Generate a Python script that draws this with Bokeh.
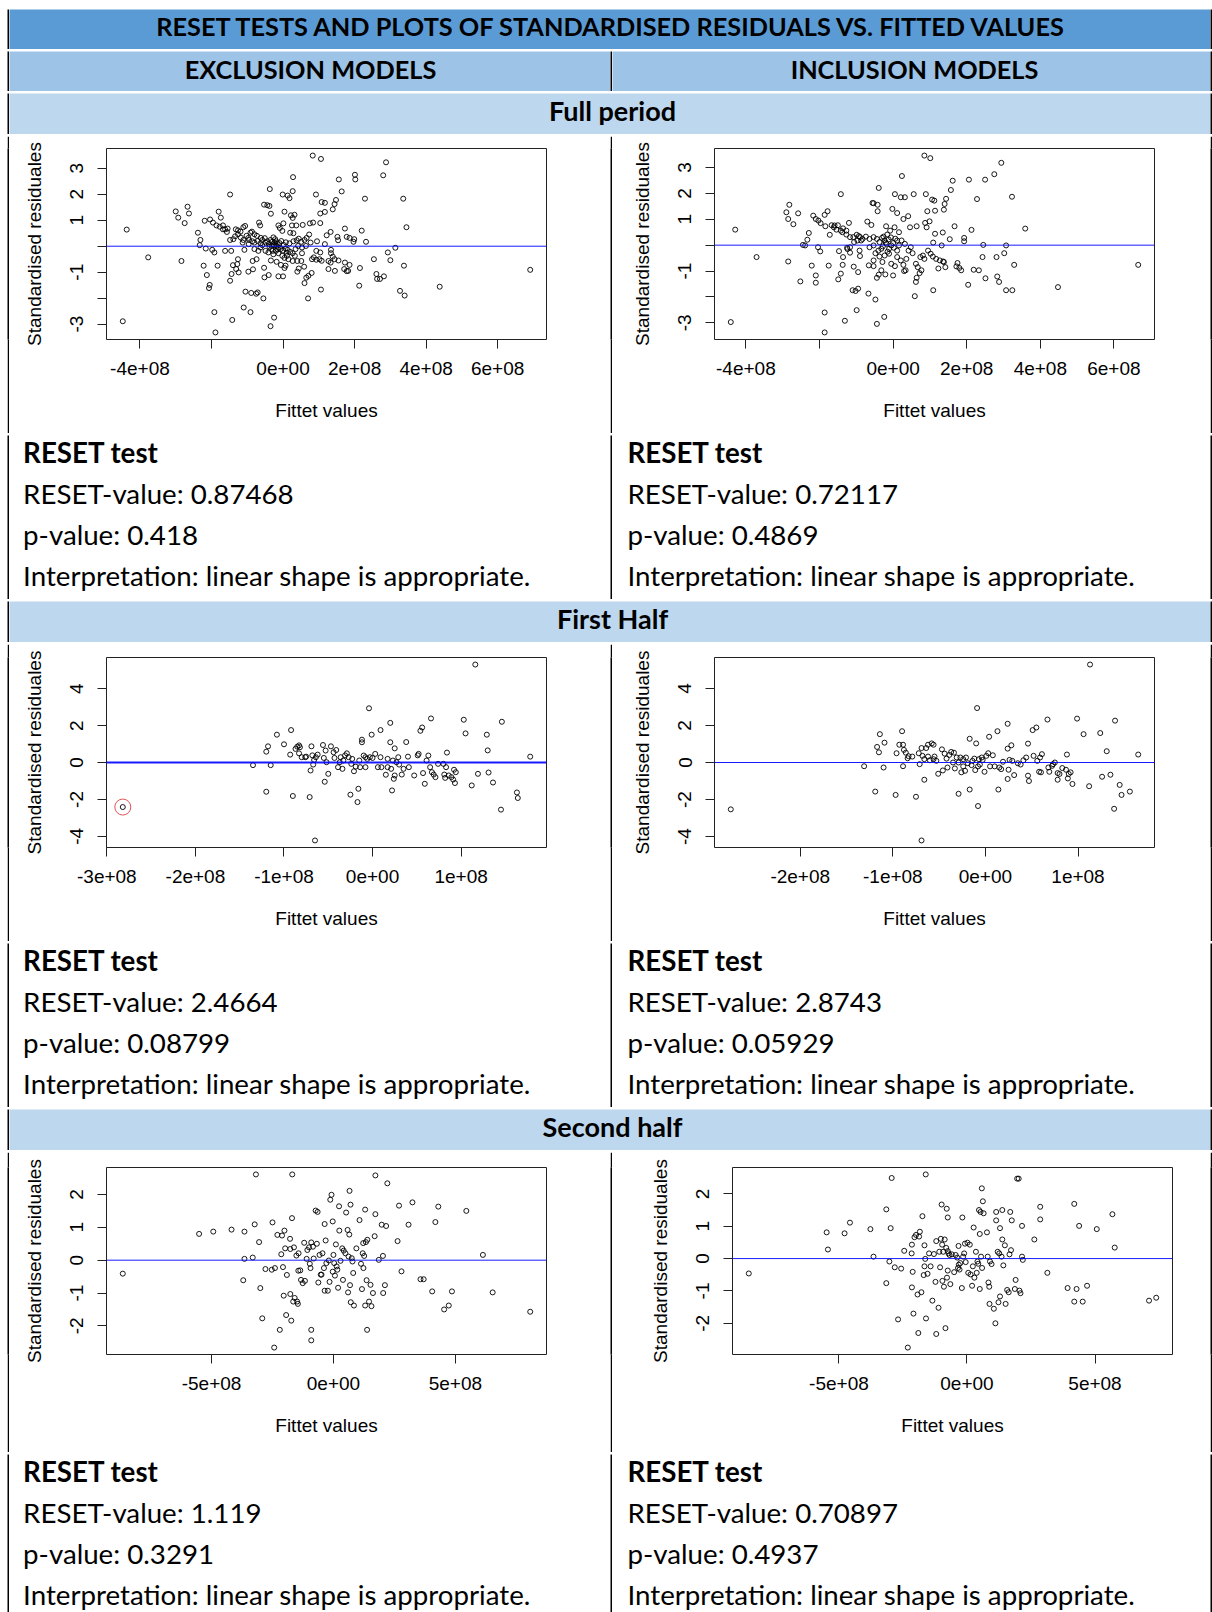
import math
from bokeh.plotting import figure
from bokeh.layouts import row, column
from bokeh.models import Range1d, FixedTicker, Span
from bokeh.core.properties import value
from bokeh.embed import file_html
from bokeh.resources import INLINE

# ------------------------------------------------------------------ texts
TITLE = "RESET TESTS AND PLOTS OF STANDARDISED RESIDUALS VS. FITTED VALUES"
COLUMN_HEADS = ["EXCLUSION MODELS", "INCLUSION MODELS"]
PERIODS = ["Full period", "First Half", "Second half"]
RESET_EXCL = ["0.87468", "2.4664", "1.119"]
P_EXCL = ["0.418", "0.08799", "0.3291"]
RESET_INCL = ["0.72117", "2.8743", "0.70897"]
P_INCL = ["0.4869", "0.05929", "0.4937"]
INTERPRETATION = "linear shape is appropriate."
X_TITLE = "Fittet values"
Y_TITLE = "Standardised residuales"

# ------------------------------------------------------------------ ticks (fitted values in units of 1e8)
FULL_XTICKS = [-4, -2, 0, 2, 4, 6]
FULL_XLABELS = ["-4e+08", "", "0e+00", "2e+08", "4e+08", "6e+08"]
FULL_YTICKS = [-3, -2, -1, 0, 1, 2, 3]
FULL_YLABELS = ["-3", "", "-1", "", "1", "2", "3"]
FIRST_EXCL_XTICKS = [-3, -2, -1, 0, 1]
FIRST_EXCL_XLABELS = ["-3e+08", "-2e+08", "-1e+08", "0e+00", "1e+08"]
FIRST_INCL_XTICKS = [-2, -1, 0, 1]
FIRST_INCL_XLABELS = ["-2e+08", "-1e+08", "0e+00", "1e+08"]
FIRST_YTICKS = [-4, -2, 0, 2, 4]
FIRST_YLABELS = ["-4", "-2", "0", "2", "4"]
SECOND_XTICKS = [-5, 0, 5]
SECOND_XLABELS = ["-5e+08", "0e+00", "5e+08"]
SECOND_YTICKS = [-2, -1, 0, 1, 2]
SECOND_YLABELS = ["-2", "-1", "0", "1", "2"]

# ------------------------------------------------------------------ points: (fitted value / 1e8, standardised residual)
FULL_EXCL = [
    (-4.48, -2.89), (-4.37, 0.64), (-3.77, -0.43), (-3.0, 1.34), (-2.93, 1.10), (-2.75, 0.89), (-2.67, 1.52),
    (-2.63, 1.26), (-2.84, -0.57), (-2.38, 0.52), (-2.31, 0.24), (-2.33, 0.04), (-2.16, -0.09), (-2.22, -0.75),
    (-2.13, -1.11), (-2.05, -1.49), (-2.07, -1.61), (-1.92, -2.54), (-1.89, -3.32), (-1.98, -0.14), (-1.92, -0.24),
    (-1.83, -0.75), (-2.19, 0.98), (-2.04, 1.03), (-1.96, 0.91), (-1.80, 1.33), (-1.74, 1.10), (-1.86, 0.80),
    (-1.77, 0.75), (-1.68, 0.80), (-1.62, 0.65), (-1.55, 0.68), (-1.48, 1.99), (-1.62, -0.18), (-1.45, -0.18),
    (-1.48, 0.24), (-1.39, 0.27), (-1.48, -1.33), (-1.44, -1.07), (-1.40, -0.73), (-1.42, -2.84), (-1.34, 0.38),
    (-1.32, 0.65), (-1.26, 0.61), (-1.19, 0.56), (-1.11, 0.73), (-1.06, 0.78), (-1.31, -0.88), (-1.26, -0.50),
    (-1.28, -0.69), (-1.24, -1.01), (-1.13, 0.14), (-1.08, -0.14), (-1.05, -1.75), (-1.10, -2.36), (-0.91, -2.54),
    (-0.89, -1.80), (-0.71, -1.78), (-0.75, -1.83), (-0.55, -2.01), (-0.97, -0.98), (-0.84, -0.89), (-0.85, -0.57),
    (-0.74, -0.50), (-0.97, 0.32), (-0.91, 0.52), (-0.87, 0.56), (-0.80, 0.46), (-0.73, 0.40), (-0.67, 0.91),
    (-0.64, 0.80), (-0.62, 0.32), (-0.58, 0.24), (-0.51, 0.31), (-0.53, 1.60), (-0.44, 1.58), (-0.38, 1.55),
    (-0.34, 1.25), (-0.37, 2.20), (-0.53, -0.83), (-0.52, -1.20), (-0.40, -1.11), (-0.35, -3.08), (-0.25, -2.75),
    (-0.29, -0.18), (-0.27, -0.31), (-0.34, -0.55), (-0.18, -0.60), (-0.13, -1.16), (0.0, -1.16), (-0.06, -0.72),
    (0.04, -0.84), (0.07, -0.75), (-0.01, 1.99), (0.13, 1.95), (0.18, 1.85), (0.27, 2.12), (0.28, 2.66),
    (0.04, 1.33), (0.22, 1.19), (0.32, 1.21), (0.27, 1.09), (0.01, 0.88), (0.25, 0.80), (0.37, 0.80),
    (-0.13, 0.80), (-0.09, 0.70), (-0.02, 0.59), (0.20, 0.52), (0.29, 0.50), (0.55, 0.82), (0.75, 0.88),
    (0.84, 0.91), (1.04, 0.89), (0.92, 1.99), (0.83, 3.49), (1.06, 3.36), (1.08, 1.70), (1.17, 1.67),
    (1.04, 1.26), (1.17, 1.32), (1.39, 1.42), (1.44, 1.62), (1.48, 1.78), (1.56, 2.57), (1.64, 2.11),
    (2.01, 2.75), (2.02, 2.57), (2.29, 1.83), (2.80, 2.73), (2.88, 3.23), (3.36, 1.83), (3.45, 0.73),
    (0.73, 0.45), (0.95, 0.19), (1.22, 0.42), (1.33, 0.55), (1.52, 0.36), (1.54, 0.23), (1.73, 0.68),
    (1.78, 0.36), (1.86, 0.32), (1.99, 0.27), (1.97, 0.17), (2.20, 0.60), (2.32, 0.17), (1.17, 0.08),
    (1.34, -0.14), (1.34, -0.27), (1.39, -0.40), (1.44, -0.50), (1.55, -0.55), (1.27, -0.57), (1.33, -0.63),
    (1.27, -0.88), (1.45, -0.95), (1.73, -0.63), (1.86, -0.72), (1.71, -0.88), (1.78, -0.96), (1.82, -0.95),
    (2.15, -0.84), (2.13, -1.52), (1.06, -1.67), (0.70, -2.01), (0.60, -1.42), (0.65, -1.21), (0.71, -1.14),
    (0.80, -1.03), (0.40, -0.98), (0.44, -0.86), (0.59, -0.79), (0.51, -0.57), (0.40, -0.57), (0.27, -0.57),
    (0.11, -0.37), (0.33, -0.37), (0.53, -0.27), (0.81, -0.50), (0.86, -0.43), (0.93, -0.52), (1.02, -0.50),
    (1.08, -0.56), (0.93, -0.18), (1.04, -0.24), (0.77, 0.14), (0.64, 0.01), (0.51, 0.17), (0.38, 0.23),
    (2.54, -0.50), (2.61, -1.07), (2.63, -1.26), (2.71, -1.26), (2.82, -1.16), (2.93, -0.24), (3.0, -0.54),
    (3.14, -0.06), (3.27, -1.72), (3.40, -1.90), (3.38, -0.75), (4.38, -1.56), (6.91, -0.91),
    (-1.02, 0.40), (-0.95, 0.24), (-0.86, 0.19), (-0.80, 0.14), (-0.71, 0.20), (-0.63, 0.11), (-0.58, 0.04),
    (-0.49, 0.14), (-0.44, 0.19), (-0.40, 0.09), (-0.35, 0.24), (-0.30, 0.17), (-0.24, 0.14), (-0.20, 0.19),
    (-0.15, 0.09), (-0.22, 0.27), (-0.27, 0.34), (-0.13, -0.05), (-0.07, -0.11), (0.0, -0.17), (0.07, -0.09),
    (0.13, -0.14), (0.20, -0.22), (0.27, -0.27), (0.35, -0.11), (0.42, 0.01), (0.53, -0.05), (-0.49, -0.18),
    (-0.41, -0.24), (-0.33, -0.11), (-0.20, -0.18), (-0.13, -0.27), (-0.02, -0.37), (0.04, -0.45), (0.15, -0.50),
    (0.18, 0.11), (0.29, 0.19), (0.44, 0.29), (0.60, 0.24), (0.66, 0.32), (-0.80, -0.11), (-0.69, -0.18),
    (-0.63, -0.05), (-0.96, 0.08), (-1.11, 0.24), (-1.18, 0.33), (-1.26, 0.46), (-1.57, 0.55), (-1.68, 0.65),
    (-0.25, 0.05), (-0.18, 0.02), (-0.10, 0.12), (-0.05, 0.20), (0.02, 0.05), (0.08, 0.15), (-0.32, 0.02),
    (-0.38, -0.02), (-0.15, -0.12), (0.10, -0.25),
]

FULL_INCL = [
    (-4.41, -2.97), (-4.29, 0.60), (-3.71, -0.46), (-2.90, 1.27), (-2.82, 1.56), (-2.85, 1.01), (-2.71, 0.81),
    (-2.58, 1.23), (-2.85, -0.63), (-2.45, 0.01), (-2.39, -0.01), (-2.33, 0.21), (-2.29, 0.47), (-2.21, -0.79),
    (-2.10, -1.17), (-2.10, -1.45), (-2.52, -1.40), (-2.17, 1.14), (-2.10, 1.01), (-2.03, 0.95), (-1.97, 0.85),
    (-1.86, 1.17), (-1.78, 1.31), (-1.84, 0.73), (-2.04, -0.08), (-1.98, -0.24), (-1.86, -2.60), (-1.86, -3.37),
    (-1.75, -0.79), (-1.67, 0.77), (-1.59, 0.76), (-1.72, 0.40), (-1.50, 0.77), (-1.42, 1.97), (-1.47, -0.23),
    (-1.42, -1.10), (-1.37, -0.76), (-1.36, -0.46), (-1.49, -1.32), (-1.31, -2.92), (-1.42, 0.56), (-1.36, 0.65),
    (-1.27, 0.56), (-1.20, 0.86), (-1.25, -0.10), (-1.17, -0.08), (-1.10, -1.74), (-1.02, -1.77), (-0.95, -1.68),
    (-0.99, -2.51), (-1.07, -0.83), (-0.95, -1.04), (-0.90, -0.42), (-1.08, 0.31), (-0.99, 0.40), (-0.93, 0.35),
    (-0.87, 0.18), (-0.70, 0.91), (-0.59, 0.78), (-0.67, -1.87), (-0.53, -0.81), (-0.48, -2.10), (-0.44, -3.04),
    (-0.56, 1.63), (-0.53, 1.62), (-0.42, 1.31), (-0.39, 2.21), (-0.42, 1.56), (-0.44, -1.26), (-0.39, -1.14),
    (-0.32, -0.97), (-0.21, -1.13), (-0.24, -2.77), (-0.29, -0.65), (-0.19, 0.73), (-0.02, 1.40), (0.05, 1.97),
    (0.11, 1.24), (0.24, 2.67), (0.21, 1.85), (0.32, 1.85), (0.28, 1.01), (0.41, 1.12), (-0.08, 0.56),
    (0.04, 0.69), (0.16, 0.50), (0.05, -0.81), (-0.05, -0.72), (0.0, -1.17), (0.30, -1.0), (0.28, -0.76),
    (0.36, -0.53), (0.56, 1.97), (0.46, 0.69), (0.64, 0.73), (0.85, 3.46), (1.01, 3.36), (0.89, 1.97),
    (0.87, 0.86), (0.99, 0.92), (0.91, 0.69), (0.93, 1.31), (1.06, 1.76), (1.12, 1.72), (1.14, 1.33),
    (1.38, 1.37), (1.40, 1.59), (1.44, 1.79), (1.57, 2.13), (1.62, 2.49), (1.67, 0.73), (2.06, 2.53),
    (2.50, 2.53), (2.28, 1.78), (2.75, 2.74), (2.94, 3.18), (3.23, 1.87), (3.59, 0.64), (2.13, 0.59),
    (1.93, 0.28), (1.93, 0.15), (1.54, 0.23), (1.35, 0.49), (1.14, 0.44), (1.09, 0.10), (1.32, -0.01),
    (2.45, 0.01), (3.07, -0.01), (3.02, -0.31), (2.43, -0.46), (2.81, -0.46), (3.29, -0.76), (2.19, -0.95),
    (2.33, -0.97), (2.51, -1.28), (2.83, -1.21), (2.88, -1.42), (2.04, -1.53), (3.07, -1.74), (3.24, -1.74),
    (4.48, -1.62), (6.66, -0.76), (1.09, -1.74), (0.59, -1.97), (0.62, -1.42), (0.64, -1.26), (0.72, -1.08),
    (0.77, -0.97), (0.34, -0.97), (0.62, -0.72), (0.67, -0.85), (1.23, -0.90), (1.38, -0.65), (1.42, -0.85),
    (1.75, -0.69), (1.80, -0.88), (1.85, -0.97), (1.72, -0.82),
    (0.95, -0.21), (1.02, -0.33), (1.08, -0.44), (1.17, -0.53), (1.27, -0.59), (1.36, -0.63), (0.81, -0.40),
    (0.74, -0.46), (0.85, -0.53), (0.53, -0.31), (0.42, -0.21), (0.48, -0.08), (0.32, 0.05), (0.23, 0.18),
    (0.16, -0.01), (0.11, -0.21), (-0.11, -0.14), (-0.18, 0.05), (-0.23, 0.18), (-0.30, 0.28), (-0.37, 0.12),
    (-0.44, 0.24), (-0.53, 0.31), (-0.64, 0.24), (-0.74, 0.33), (-0.83, 0.24), (-0.90, 0.31), (-0.97, 0.18),
    (-1.06, 0.12), (-1.17, 0.31), (-1.27, 0.41), (-1.38, 0.50), (-1.54, 0.60), (-1.61, 0.69), (-0.32, -0.14),
    (-0.40, -0.21), (-0.48, -0.31), (-0.53, -0.01), (-0.64, -0.08), (-0.05, -0.01), (0.02, -0.10), (0.11, 0.18),
    (-0.16, 0.41), (-0.26, 0.33), (-0.66, -0.78), (-0.53, -0.59), (-0.37, -0.44), (-0.23, -0.40), (-0.11, -0.33),
    (0.11, -0.46), (0.21, -0.59), (-0.91, -0.21), (-1.17, -0.29), (-1.24, -0.15), (-0.20, 0.10), (-0.12, 0.22),
    (-0.06, 0.30), (0.0, 0.08), (-0.28, -0.05), (-0.15, -0.25), (0.06, 0.25),
]

FIRST_EXCL = [
    (-2.82, -2.41), (-1.35, -0.14), (-1.20, 0.59), (-1.18, 0.88), (-1.20, -1.58), (-1.15, -0.14), (-1.08, 1.51),
    (-1.0, 0.99), (-0.92, 1.76), (-0.93, 0.43), (-0.90, -1.81), (-0.87, 0.74), (-0.85, 0.86), (-0.83, 0.93),
    (-0.83, 0.50), (-0.82, 0.83), (-0.80, 0.29), (-0.76, 0.29), (-0.75, 0.32), (-0.71, -1.87), (-0.70, -0.43),
    (-0.69, 0.88), (-0.68, 0.39), (-0.67, -0.11), (-0.66, 0.14), (-0.65, -4.22), (-0.64, 0.29), (-0.62, 0.43),
    (-0.56, 0.95), (-0.55, 0.25), (-0.54, -1.04), (-0.53, 0.65), (-0.52, 0.02), (-0.50, -0.61), (-0.47, 0.88),
    (-0.44, 0.56), (-0.41, 0.68), (-0.43, 0.25), (-0.39, -0.25), (-0.37, 0.02), (-0.36, 0.29), (-0.34, -0.34),
    (-0.33, 0.11), (-0.31, 0.39), (-0.29, 0.50), (-0.27, 0.29), (-0.25, -1.74), (-0.24, -0.07), (-0.23, 0.20),
    (-0.21, -0.47), (-0.19, -0.22), (-0.17, -2.14), (-0.16, -1.42), (-0.15, 0.11), (-0.14, -0.25), (-0.12, 1.24),
    (-0.12, 1.10), (-0.10, 0.38), (-0.08, 0.29), (-0.08, -0.25), (-0.06, 0.20), (-0.04, 2.94), (-0.03, 0.29),
    (-0.01, 1.51), (0.0, 0.25), (0.03, 0.47), (0.06, -0.25), (0.09, 0.29), (0.09, 1.76), (0.10, -0.25),
    (0.15, -0.66), (0.17, -0.25), (0.17, 0.20), (0.20, 2.15), (0.20, 1.10), (0.21, -0.34), (0.22, -1.51),
    (0.23, 0.11), (0.24, -0.88), (0.25, 0.77), (0.25, -0.70), (0.27, 0.02), (0.29, 0.29), (0.30, -0.11),
    (0.33, -0.65), (0.35, -0.34), (0.38, 1.11), (0.40, 0.32), (0.41, -0.25), (0.47, -0.70), (0.51, 0.39),
    (0.52, 0.47), (0.54, 1.72), (0.56, 1.90), (0.57, -0.57), (0.59, -1.15), (0.61, 0.11), (0.63, 0.38),
    (0.65, -0.25), (0.66, 2.39), (0.67, -0.52), (0.69, -0.65), (0.71, -0.79), (0.74, -0.07), (0.80, -0.07),
    (0.81, -0.65), (0.82, -0.83), (0.84, 0.54), (0.83, -0.25), (0.86, -0.70), (0.89, -0.79), (0.91, -0.92),
    (0.92, -0.39), (0.93, -1.11), (0.94, -0.52), (1.03, 2.32), (1.05, 1.58), (1.12, -1.24), (1.16, 5.31),
    (1.19, -0.61), (1.29, 1.51), (1.30, 0.66), (1.31, -0.54), (1.36, -1.08), (1.45, -2.55), (1.46, 2.21),
    (1.63, -1.62), (1.64, -1.92), (1.78, 0.32),
]

FIRST_INCL = [
    (-2.75, -2.53), (-1.31, -0.20), (-1.19, -1.57), (-1.17, 0.84), (-1.15, 0.55), (-1.14, 1.53), (-1.10, -0.27),
    (-1.09, 1.07), (-0.97, -1.75), (-0.96, 0.50), (-0.93, 0.96), (-0.90, 1.69), (-0.89, 0.96), (-0.89, -0.20),
    (-0.88, 0.68), (-0.86, 0.53), (-0.84, 0.23), (-0.83, 0.34), (-0.79, 0.32), (-0.75, -1.85), (-0.72, 0.50),
    (-0.71, -0.09), (-0.69, 0.78), (-0.68, 0.36), (-0.66, -0.93), (-0.66, 0.18), (-0.64, 0.78), (-0.62, 0.32),
    (-0.62, 0.96), (-0.60, 0.12), (-0.58, 1.03), (-0.56, 0.96), (-0.56, 0.18), (-0.55, 0.32), (-0.53, 0.09),
    (-0.51, -0.61), (-0.47, 0.71), (-0.46, -0.43), (-0.44, 0.48), (-0.42, 0.21), (-0.41, -0.27), (-0.39, 0.41),
    (-0.37, 0.57), (-0.35, 0.00), (-0.34, 0.53), (-0.33, -0.32), (-0.31, 0.27), (-0.29, -1.69), (-0.29, 0.0),
    (-0.27, 0.27), (-0.26, -0.53), (-0.24, -0.21), (-0.24, 0.18), (-0.22, -0.45), (-0.21, 0.27), (-0.19, -0.04),
    (-0.17, -1.46), (-0.17, 1.28), (-0.15, -0.14), (-0.14, 0.09), (-0.12, 0.21), (-0.11, -0.41), (-0.10, 1.03),
    (-0.09, 2.94), (-0.08, -0.21), (-0.08, -2.35), (-0.07, 0.18), (-0.06, -0.11), (-0.04, 0.27), (-0.03, 0.14),
    (-0.01, -0.50), (0.01, 0.36), (0.03, 0.50), (0.04, 1.39), (0.05, -0.21), (0.08, 0.39), (0.10, -0.21),
    (0.13, 1.69), (0.14, -1.46), (0.15, -0.27), (0.17, -0.36), (0.19, 0.04), (0.24, 0.75), (0.24, 2.09),
    (0.24, -0.89), (0.25, -0.39), (0.26, 0.14), (0.28, 0.93), (0.29, 0.09), (0.31, -0.68), (0.35, -0.04),
    (0.38, -0.11), (0.41, 0.12), (0.44, 0.27), (0.46, 1.02), (0.46, -0.71), (0.47, -1.0), (0.51, 1.75),
    (0.52, 0.36), (0.55, 1.89), (0.56, 0.09), (0.58, -0.50), (0.59, 0.27), (0.60, -0.53), (0.61, 0.45),
    (0.67, 2.32), (0.68, -0.27), (0.69, -0.50), (0.72, -0.18), (0.73, -0.09), (0.75, 0.0), (0.78, -0.57),
    (0.78, -0.93), (0.80, -0.62), (0.83, -0.30), (0.87, -0.39), (0.88, 0.43), (0.89, -0.86), (0.90, -0.62),
    (0.92, -0.53), (0.94, -1.16), (0.99, 2.37), (1.06, 1.53), (1.12, -1.28), (1.13, 5.29), (1.24, 1.59),
    (1.26, -0.77), (1.31, 0.61), (1.35, -0.66), (1.39, -2.50), (1.40, 2.26), (1.45, -1.21), (1.47, -1.75),
    (1.56, -1.57), (1.65, 0.43), (-0.69, -4.21),
]

SECOND_EXCL = [
    (-8.64, -0.41), (-5.51, 0.80), (-4.93, 0.87), (-4.18, 0.93), (-3.65, 0.87), (-3.65, 0.04), (-3.70, -0.61),
    (-3.31, 0.08), (-3.23, 1.09), (-3.18, 2.61), (-3.05, 0.55), (-3.0, -0.85), (-2.92, -1.77), (-2.79, -0.27),
    (-2.53, -0.29), (-2.43, -2.66), (-2.50, 1.15), (-2.40, -0.24), (-2.30, 0.77), (-2.20, -2.12), (-2.14, 0.18),
    (-2.11, 0.75), (-2.07, -0.21), (-2.04, -1.08), (-2.01, 0.90), (-1.98, 0.36), (-1.94, -1.67), (-1.91, -0.45),
    (-1.78, 0.65), (-1.77, 0.34), (-1.77, -1.03), (-1.73, -1.84), (-1.70, 1.28), (-1.69, 2.61), (-1.65, -1.26),
    (-1.62, 0.39), (-1.59, -1.15), (-1.52, 0.14), (-1.49, -1.26), (-1.46, -1.33), (-1.44, -0.32), (-1.43, 0.21),
    (-1.36, -0.31), (-1.33, -0.60), (-1.26, -0.70), (-1.20, 0.53), (-1.17, -0.63), (-1.10, 0.04), (-1.07, 0.31),
    (-1.0, 0.39), (-0.97, -0.11), (-0.94, -0.24), (-0.91, 0.54), (-0.91, -2.12), (-0.91, -2.44), (-0.84, 0.41),
    (-0.81, 0.05), (-0.73, 1.51), (-0.68, 0.50), (-0.65, 1.47), (-0.62, -0.68), (-0.57, 0.16), (-0.52, -0.44),
    (-0.49, -0.44), (-0.45, 0.21), (-0.39, -0.24), (-0.36, 1.10), (-0.36, -0.93), (-0.32, 0.60), (-0.29, -0.09),
    (-0.23, -0.93), (-0.19, -0.01), (-0.16, -0.66), (-0.13, 1.84), (-0.08, 1.99), (-0.03, 1.18), (-0.03, -0.35),
    (0.0, 0.16), (0.03, -0.09), (0.06, -0.47), (0.10, 0.48), (0.13, -0.19), (0.16, -0.29), (0.19, -0.84),
    (0.23, 1.64), (0.24, 0.90), (0.29, -0.02), (0.36, 0.36), (0.39, -0.60), (0.42, 0.29), (0.49, 0.21),
    (0.52, 1.45), (0.58, 0.92), (0.60, -0.98), (0.62, 0.11), (0.65, 0.78), (0.66, 2.11), (0.68, -0.76),
    (0.70, 1.69), (0.71, -1.28), (0.75, 0.06), (0.78, -0.04), (0.81, -0.39), (0.84, -1.38), (0.94, 0.36),
    (1.07, 1.22), (1.13, -0.11), (1.17, -0.88), (1.20, 0.21), (1.22, 0.52), (1.23, -0.24), (1.26, 0.13),
    (1.30, 1.54), (1.30, -1.38), (1.33, 0.55), (1.36, -0.61), (1.38, -2.12), (1.39, 0.62), (1.46, -1.26),
    (1.52, -0.75), (1.56, -1.40), (1.62, -1.0), (1.69, 0.73), (1.72, 1.40), (1.72, 2.58), (1.86, 0.01),
    (1.98, 1.08), (2.03, 0.13), (2.04, -1.0), (2.11, -0.76), (2.16, 1.04), (2.21, 2.34), (2.63, 0.58),
    (2.69, 1.66), (2.79, -0.34), (3.08, 1.08), (3.24, 1.76), (3.57, -0.58), (3.70, -0.58), (4.05, -0.95),
    (4.18, 1.16), (4.30, 1.63), (4.54, -1.50), (4.73, -1.38), (4.86, -0.95), (5.45, 1.50), (6.13, 0.16),
    (6.53, -0.98), (8.07, -1.57),
]

SECOND_INCL = [
    (-8.52, -0.46), (-5.48, 0.81), (-5.43, 0.28), (-4.78, 0.78), (-4.57, 1.11), (-3.77, 0.91), (-3.65, 0.06),
    (-3.15, 1.52), (-3.15, -0.76), (-3.03, -0.09), (-2.98, 0.94), (-2.94, 2.49), (-2.82, -0.27), (-2.69, -1.88),
    (-2.57, -0.31), (-2.45, 0.24), (-2.31, -2.75), (-2.16, 0.16), (-2.15, 0.43), (-2.15, -0.89), (-2.12, -0.41),
    (-2.09, -1.70), (-2.05, 0.66), (-1.99, 0.73), (-1.93, -1.11), (-1.90, -2.30), (-1.87, 0.68), (-1.84, 0.83),
    (-1.78, -1.04), (-1.74, 1.31), (-1.69, -0.51), (-1.66, 0.41), (-1.66, -0.24), (-1.63, -0.01), (-1.61, 2.60),
    (-1.60, -1.85), (-1.54, -0.47), (-1.48, 0.16), (-1.42, -0.24), (-1.35, -1.30), (-1.29, 0.14), (-1.23, -0.72),
    (-1.20, 0.54), (-1.20, -2.33), (-1.11, -1.52), (-1.08, 0.21), (-1.05, -0.27), (-1.02, 0.61), (-0.99, 1.67),
    (-0.97, 0.43), (-0.96, -0.69), (-0.93, 0.21), (-0.90, -0.87), (-0.87, 0.59), (-0.84, -2.15), (-0.81, 0.33),
    (-0.79, 1.54), (-0.78, -0.59), (-0.75, 0.23), (-0.75, -0.37), (-0.75, 1.27), (-0.72, 0.16), (-0.68, 0.11),
    (-0.65, -0.79), (-0.59, 0.13), (-0.50, -0.42), (-0.44, 0.11), (-0.38, 0.03), (-0.35, -0.29), (-0.33, 0.39),
    (-0.32, -0.19), (-0.29, -0.34), (-0.26, -0.14), (-0.20, -0.91), (-0.18, 1.27), (-0.15, 0.06), (-0.11, 0.16),
    (-0.08, 0.46), (-0.05, -0.11), (0.02, 0.49), (0.05, -0.44), (0.11, 0.43), (0.14, -0.49), (0.20, -0.84),
    (0.23, -0.24), (0.26, 0.96), (0.29, -0.59), (0.35, 0.21), (0.38, -0.44), (0.41, -0.09), (0.44, -0.16),
    (0.47, 1.50), (0.50, -0.94), (0.50, 0.76), (0.53, 1.44), (0.55, 0.06), (0.58, 2.17), (0.59, -0.29),
    (0.62, 1.77), (0.65, 1.40), (0.78, 0.81), (0.81, 0.06), (0.84, -0.74), (0.87, -0.87), (0.88, -1.40),
    (0.90, -0.09), (0.96, -0.17), (1.05, -1.55), (1.11, -2.0), (1.14, 1.18), (1.14, 1.44), (1.20, 0.21),
    (1.23, -1.35), (1.26, 0.16), (1.29, -1.17), (1.29, 0.94), (1.35, 0.06), (1.38, 1.50), (1.42, -0.21),
    (1.38, 0.59), (1.48, 0.41), (1.51, -1.40), (1.57, -0.97), (1.63, -1.04), (1.66, 0.13), (1.69, 1.44),
    (1.72, 0.26), (1.75, 1.18), (1.87, -0.94), (1.90, -0.66), (1.96, 2.47), (2.02, 2.47), (2.05, -0.99),
    (2.09, -1.07), (2.15, 1.01), (2.15, 0.06), (2.18, -0.04), (2.63, 0.59), (2.86, 1.60), (2.86, 1.21),
    (3.14, -0.44), (3.93, -0.91), (4.19, 1.69), (4.19, -1.33), (4.28, -0.94), (4.38, 1.01), (4.52, -1.33),
    (4.69, -0.84), (5.07, 0.91), (5.68, 1.37), (5.77, 0.34), (7.11, -1.30), (7.39, -1.21),
]

# ------------------------------------------------------------------ layout / style
TEXT_FONT = "Lato"
PLOT_FONT = "Liberation Sans"
TITLE_BG = "#5B9BD5"
HEAD_BG = "#9DC3E6"
PERIOD_BG = "#BDD7EE"
LINE = "black"
OFFSET = 7                  # white space before the table (top and left)
BW = 2                      # table rule width
LEFT_W, RIGHT_W = 601, 598  # cell widths
FULL_W = LEFT_W + BW + RIGHT_W
TXT_SIZE = "27.7px"
CAPS_SIZE = "25.3px"
PERIOD_SIZE = "27px"
PLOT_TXT = "19px"
TEXT_ROWS = [17, 58, 99, 140]


def solid(w, h, color):
    p = figure(width=w, height=h, toolbar_location=None, output_backend="svg",
               x_axis_type=None, y_axis_type=None,
               x_range=Range1d(0, w), y_range=Range1d(h, 0),
               min_border_left=0, min_border_right=0, min_border_top=0, min_border_bottom=0)
    p.background_fill_color = color
    p.border_fill_color = color
    p.outline_line_color = None
    return p


def label_cell(w, h, color, txt, cx, cy, size):
    p = solid(w, h, color)
    p.text(x=[cx], y=[cy], text=[txt], text_font=value(TEXT_FONT), text_font_size=size,
           text_font_style="bold", text_align="center", text_baseline="middle", text_color="black")
    return p


def reset_cell(w, h, reset_v, p_v, x0):
    p = solid(w, h, "white")
    p.text(x=[x0], y=[TEXT_ROWS[0]], text=["RESET test"], text_font=value(TEXT_FONT),
           text_font_size=TXT_SIZE, text_font_style="bold", text_align="left",
           text_baseline="middle", text_color="black")
    lines = ["RESET-value: " + reset_v, "p-value: " + p_v, "Interpretation: " + INTERPRETATION]
    p.text(x=[x0] * 3, y=TEXT_ROWS[1:], text=lines, text_font=value(TEXT_FONT), text_font_size=TXT_SIZE,
           text_font_style="normal", text_align="left", text_baseline="middle", text_color="black")
    return p


def padded(vals):
    lo, hi = min(vals), max(vals)
    d = (hi - lo) * 0.04
    return lo - d, hi + d


def scatter_cell(w, h, frame, pts, xt, xl, yt, yl, highlight=False, zero_w=1):
    left, top, fw, fh = frame
    xs = [a for a, b in pts]
    ys = [b for a, b in pts]
    p = figure(width=w, height=h, toolbar_location=None, output_backend="svg",
               x_range=Range1d(*padded(xs)), y_range=Range1d(*padded(ys)),
               min_border_left=left, min_border_right=w - left - fw,
               min_border_top=top, min_border_bottom=h - top - fh)
    p.background_fill_color = "white"
    p.border_fill_color = "white"
    p.outline_line_color = "#222222"
    p.outline_line_width = 1
    p.grid.visible = False
    p.xaxis.ticker = FixedTicker(ticks=xt)
    p.yaxis.ticker = FixedTicker(ticks=yt)
    p.xaxis.major_label_overrides = dict(zip(xt, xl))
    p.yaxis.major_label_overrides = dict(zip(yt, yl))
    p.xaxis.bounds = (min(xt), max(xt))
    p.yaxis.bounds = (min(yt), max(yt))
    p.xaxis.axis_label = X_TITLE
    p.yaxis.axis_label = Y_TITLE
    p.yaxis.major_label_orientation = "vertical"
    for ax in p.axis:
        ax.axis_line_color = "#222222"
        ax.major_tick_line_color = "#222222"
        ax.major_tick_out = 9
        ax.major_tick_in = 0
        ax.minor_tick_line_color = None
        ax.major_label_text_font = PLOT_FONT
        ax.major_label_text_font_size = PLOT_TXT
        ax.major_label_text_color = "black"
        ax.axis_label_text_font = PLOT_FONT
        ax.axis_label_text_font_size = PLOT_TXT
        ax.axis_label_text_font_style = "normal"
        ax.axis_label_text_color = "black"
    p.xaxis.major_label_standoff = 13
    p.xaxis.axis_label_standoff = 22
    p.yaxis.major_label_standoff = 14
    p.yaxis.axis_label_standoff = 23
    p.add_layout(Span(location=0, dimension="width", line_color="blue", line_width=zero_w, line_alpha=0.9))
    p.scatter(xs, ys, marker="circle", size=5, fill_color=None, line_color="black",
              line_width=1, line_alpha=0.9)
    if highlight:
        i = xs.index(min(xs))
        p.scatter([xs[i]], [ys[i]], marker="circle", size=16, fill_color=None,
                  line_color="#e05555", line_width=1)
    return p


def hrule():
    return solid(FULL_W + 2 * BW, BW, LINE)


def vrule(h):
    return solid(BW, h, LINE)


def span_row(h, color, txt, size, cy):
    return row(vrule(h), label_cell(FULL_W, h, color, txt, 603, cy, size), vrule(h))


def pair_row(h, left, right):
    return row(vrule(h), left, vrule(h), right, vrule(h))


PLOT_H = [297, 297, 300]
TEXT_H = [164, 164, 158]
PERIOD_H = [41, 41, 41]
FRAMES = [((97, 10, 440, 193), (102, 12, 440, 192)),
          ((97, 13, 440, 191), (102, 10, 440, 193)),
          ((97, 10, 440, 192), (120, 15, 440, 192))]
DATA = [(FULL_EXCL, FULL_INCL), (FIRST_EXCL, FIRST_INCL), (SECOND_EXCL, SECOND_INCL)]
XT = [((FULL_XTICKS, FULL_XLABELS), (FULL_XTICKS, FULL_XLABELS)),
      ((FIRST_EXCL_XTICKS, FIRST_EXCL_XLABELS), (FIRST_INCL_XTICKS, FIRST_INCL_XLABELS)),
      ((SECOND_XTICKS, SECOND_XLABELS), (SECOND_XTICKS, SECOND_XLABELS))]
YT = [(FULL_YTICKS, FULL_YLABELS), (FIRST_YTICKS, FIRST_YLABELS), (SECOND_YTICKS, SECOND_YLABELS)]

children = [hrule(),
            span_row(40, TITLE_BG, TITLE, CAPS_SIZE, 16),
            hrule(),
            pair_row(40, label_cell(LEFT_W, 40, HEAD_BG, COLUMN_HEADS[0], 301, 17, CAPS_SIZE),
                     label_cell(RIGHT_W, 40, HEAD_BG, COLUMN_HEADS[1], 302, 17, CAPS_SIZE)),
            hrule()]
for k in range(3):
    children.append(span_row(PERIOD_H[k], PERIOD_BG, PERIODS[k], PERIOD_SIZE, 17))
    children.append(hrule())
    (xtl, xll), (xtr, xlr) = XT[k]
    yt, yl = YT[k]
    left = scatter_cell(LEFT_W, PLOT_H[k], FRAMES[k][0], DATA[k][0], xtl, xll, yt, yl,
                        highlight=(k == 1), zero_w=(2 if k == 1 else 1))
    right = scatter_cell(RIGHT_W, PLOT_H[k], FRAMES[k][1], DATA[k][1], xtr, xlr, yt, yl)
    children.append(pair_row(PLOT_H[k], left, right))
    children.append(hrule())
    children.append(pair_row(TEXT_H[k], reset_cell(LEFT_W, TEXT_H[k], RESET_EXCL[k], P_EXCL[k], 13.6),
                             reset_cell(RIGHT_W, TEXT_H[k], RESET_INCL[k], P_INCL[k], 15)))
    if k < 2:
        children.append(hrule())

table = column(*children, spacing=0)
table_h = 2 + 40 + 2 + 40 + 2 + sum(PERIOD_H) + 3 * 2 + sum(PLOT_H) + 3 * 2 + sum(TEXT_H) + 2 * 2
page = column(solid(FULL_W + 2 * BW + OFFSET, OFFSET, "white"),
              row(solid(OFFSET, table_h, "white"), table, spacing=0),
              spacing=0)
open("out.html", "w").write(file_html(page, INLINE))
